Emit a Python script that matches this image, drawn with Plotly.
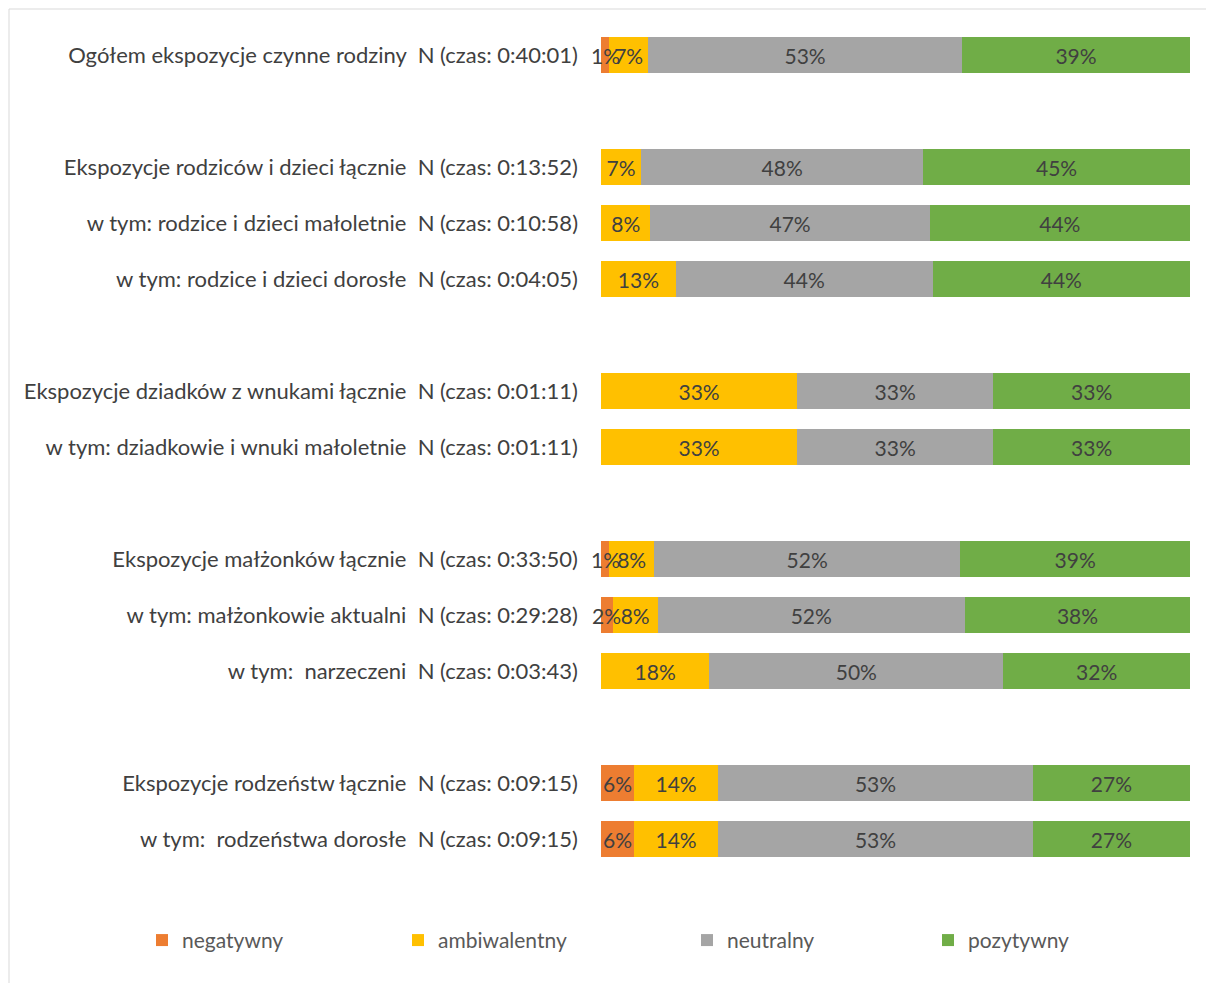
import plotly.graph_objects as go

categories = [
    "Ogółem ekspozycje czynne rodziny  N (czas: 0:40:01)",
    " ",
    "Ekspozycje rodziców i dzieci łącznie  N (czas: 0:13:52)",
    "w tym: rodzice i dzieci małoletnie  N (czas: 0:10:58)",
    "w tym: rodzice i dzieci dorosłe  N (czas: 0:04:05)",
    "  ",
    "Ekspozycje dziadków z wnukami łącznie  N (czas: 0:01:11)",
    "w tym: dziadkowie i wnuki małoletnie  N (czas: 0:01:11)",
    "   ",
    "Ekspozycje małżonków łącznie  N (czas: 0:33:50)",
    "w tym: małżonkowie aktualni  N (czas: 0:29:28)",
    "w tym:  narzeczeni  N (czas: 0:03:43)",
    "    ",
    "Ekspozycje rodzeństw łącznie  N (czas: 0:09:15)",
    "w tym:  rodzeństwa dorosłe  N (czas: 0:09:15)",
]

negatywny = [1.4, None, None, None, None, None, None, None, None, 1.4, 2.0, None, None, 5.6, 5.6]
ambiwalentny = [6.6, None, 6.8, 8.4, 12.7, None, 33.3, 33.3, None, 7.6, 7.6, 18.4, None, 14.3, 14.3]
neutralny = [53.3, None, 47.9, 47.4, 43.6, None, 33.3, 33.3, None, 52.0, 52.2, 49.9, None, 53.4, 53.4]
pozytywny = [38.7, None, 45.3, 44.2, 43.7, None, 33.4, 33.4, None, 39.0, 38.2, 31.7, None, 26.7, 26.7]

series = [
    ("negatywny", negatywny, "#ed7d31"),
    ("ambiwalentny", ambiwalentny, "#ffc000"),
    ("neutralny", neutralny, "#a5a5a5"),
    ("pozytywny", pozytywny, "#70ad47"),
]

# legend text positions (page px) as in the reference
legend_px = [182, 438, 727, 968]

fig = go.Figure()
for i, (name, vals, color) in enumerate(series):
    lg = "legend" if i == 0 else "legend%d" % (i + 1)
    fig.add_trace(go.Bar(
        y=categories, x=vals, name=name, orientation="h",
        marker=dict(color=color, line=dict(width=0)),
        texttemplate="%{x:.0f}%" if name != "negatywny" else None,
        textposition="inside" if name != "negatywny" else "none",
        insidetextanchor="middle", textangle=0,
        textfont=dict(color="#404040", size=21),
        width=0.66, legend=lg,
    ))

# negatywny labels drawn on top so they overlap the next segment like in the original
for c, v in zip(categories, negatywny):
    if v:
        fig.add_annotation(x=v / 2, y=c, text="%.0f%%" % v, showarrow=False,
                           xanchor="center", yanchor="middle",
                           font=dict(color="#404040", size=21))

legend_layout = {}
for i, px in enumerate(legend_px):
    key = "legend" if i == 0 else "legend%d" % (i + 1)
    legend_layout[key] = dict(
        orientation="h", x=(px - 40 - 601) / 589, xanchor="left",
        y=-0.063, yanchor="top", bgcolor="rgba(0,0,0,0)",
        font=dict(size=21, color="#595959"),
    )

fig.update_layout(
    barmode="stack",
    width=1214, height=983,
    margin=dict(l=593, r=32, t=19, b=124, autoexpand=False),
    paper_bgcolor="white", plot_bgcolor="white",
    font=dict(family="Lato, Open Sans, sans-serif", color="#404040", size=21),
    uniformtext=dict(mode="show", minsize=21),
    showlegend=True,
    **legend_layout,
)
fig.update_xaxes(range=[0, 100], visible=False)
fig.update_yaxes(range=[len(categories) - 0.5, -0.5], showgrid=False, showline=False,
                 ticks="", ticklabelstandoff=22,
                 tickfont=dict(size=22, color="#404040"))

fig.add_shape(type="rect", xref="paper", yref="paper",
              x0=(9 - 601) / 589, x1=(1230 - 601) / 589,
              y0=(867 - 1000) / 840, y1=(867 - 9) / 840,
              line=dict(color="#d9d9d9", width=1), fillcolor="rgba(0,0,0,0)", layer="below")

fig.write_html("out.html")
